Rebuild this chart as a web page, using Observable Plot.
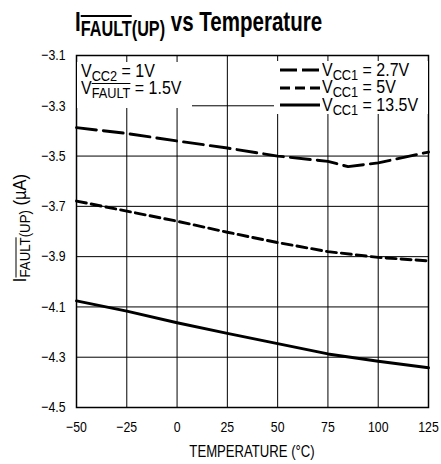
<!DOCTYPE html>
<html><head><meta charset="utf-8">
<script src="https://cdn.jsdelivr.net/npm/d3@7"></script>
<script src="https://cdn.jsdelivr.net/npm/@observablehq/plot@0.6"></script>
<style>
body{margin:0;background:#fff;font-family:"Liberation Sans",Arial,sans-serif;}
#wrap{position:relative;width:441px;height:464px;overflow:hidden;}
#title{height:44px;box-sizing:border-box;padding-left:75px;padding-top:7px;font-size:27px;font-weight:bold;color:#000;white-space:nowrap;line-height:30px;position:relative;z-index:2;}
#title .sq{transform:scaleX(0.76);}
#title .sub{font-size:0.79em;top:0.25em;}
.sq{display:inline-block;transform:scaleX(0.84);transform-origin:left center;}
.ov{text-decoration:overline;}
.sub{font-size:0.8em;position:relative;top:0.28em;}
.box{position:absolute;background:#fff;font-size:19px;line-height:17.5px;white-space:nowrap;z-index:1;}
.row{height:17.5px;display:flex;align-items:center;}
.sw{width:40px;height:17px;margin-right:2px;flex:none;}
#ylab{position:absolute;left:20px;top:228px;transform:translate(-50%,-50%) rotate(-90deg) scaleX(0.92);font-size:18px;white-space:nowrap;}
#xlab{position:absolute;left:252px;top:452px;transform:translate(-50%,-50%) scaleX(0.82);font-size:16px;white-space:nowrap;}
</style></head>
<body>
<div id="wrap">
<div id="title"><span class="sq">I<span class="sub"><span class="ov">FAULT</span>(UP)</span> vs Temperature</span></div>
<div id="chart"></div>
<div class="box" style="left:77px;top:62px;width:111px;height:46px;padding-left:4px;">
  <div class="row"><span class="sq">V<span class="sub">CC2</span>&nbsp;= 1V</span></div>
  <div class="row"><span class="sq">V<span class="sub ov">FAULT</span>&nbsp;= 1.5V</span></div>
</div>
<div class="box" style="left:274px;top:61px;width:148px;height:53px;padding-left:6px;" id="leg"></div>
<div id="ylab">I<span class="sub"><span class="ov">FAULT</span>(UP)</span> (µA)</div>
<div id="xlab">TEMPERATURE (°C)</div>
</div>
<script>
const temps27 = [-50, -25, 0, 25, 50, 75, 85, 100, 125];
const vcc27 = [-3.387, -3.410, -3.440, -3.468, -3.500, -3.521, -3.542, -3.527, -3.484];
const temps = [-50, -25, 0, 25, 50, 75, 100, 125];
const vcc5 = [-3.679, -3.719, -3.759, -3.803, -3.844, -3.880, -3.903, -3.917];
const vcc135 = [-4.076, -4.117, -4.163, -4.205, -4.246, -4.287, -4.316, -4.342];
const xTicks = [-50, -25, 0, 25, 50, 75, 100, 125];
const yTicks = [-3.1, -3.3, -3.5, -3.7, -3.9, -4.1, -4.3, -4.5];
const seriesNames = ["VCC1 = 2.7V", "VCC1 = 5V", "VCC1 = 13.5V"];
const seriesLabels = ["2.7V", "5V", "13.5V"];
const dashes = ["20,7", "10,5", null];
const legendDashes = ["17,5", "10,5", null];

const s27 = temps27.map((t,i)=>({t, v:vcc27[i]}));
const s5 = temps.map((t,i)=>({t, v:vcc5[i]}));
const s135 = temps.map((t,i)=>({t, v:vcc135[i]}));
const sets = [s27, s5, s135];

const chart = Plot.plot({
  width: 441, height: 420,
  marginTop: 11, marginBottom: 57, marginLeft: 76, marginRight: 13,
  style: {fontFamily: '"Liberation Sans",Arial,sans-serif', fontSize: "15px", color: "#000", background: "#fff"},
  x: {domain: [-50, 125]},
  y: {domain: [-4.5, -3.1]},
  marks: [
    Plot.ruleX(xTicks.slice(1, -1), {stroke: "#000", strokeWidth: 1}),
    Plot.ruleY(yTicks.slice(1, -1), {stroke: "#000", strokeWidth: 1}),
    ...sets.map((s, i) => Plot.line(s, {x: "t", y: "v", stroke: "#000", strokeWidth: 2.9, strokeDasharray: dashes[i]})),
    Plot.frame({stroke: "#000", strokeWidth: 1.5}),
    Plot.axisX({ticks: xTicks, tickSize: 0, tickPadding: 14, tickFormat: d => String(d).replace("-", "\u2212"), label: null}),
    Plot.axisY({ticks: yTicks, tickSize: 0, tickPadding: 11, tickFormat: d => d.toFixed(1).replace("-", "\u2212"), label: null})
  ]
});
document.getElementById("chart").appendChild(chart);
d3.select(chart).selectAll('g[aria-label$="tick label"] text').each(function(){
  const t = this.getAttribute("transform") || "";
  this.setAttribute("transform", t + " scale(0.82,1)");
});

const leg = document.getElementById("leg");
seriesNames.forEach((name, i) => {
  const row = document.createElement("div");
  row.className = "row";
  const ns = "http://www.w3.org/2000/svg";
  const sv = document.createElementNS(ns, "svg");
  sv.setAttribute("class", "sw"); sv.setAttribute("width", 40); sv.setAttribute("height", 17);
  const ln = document.createElementNS(ns, "line");
  ln.setAttribute("x1", 0); ln.setAttribute("x2", 40); ln.setAttribute("y1", 9); ln.setAttribute("y2", 9);
  ln.setAttribute("stroke", "#000"); ln.setAttribute("stroke-width", 2.9);
  if (legendDashes[i]) ln.setAttribute("stroke-dasharray", legendDashes[i]);
  sv.appendChild(ln);
  row.appendChild(sv);
  const tx = document.createElement("span");
  tx.className = "sq";
  tx.innerHTML = 'V<span class="sub">CC1</span>&nbsp;= ' + seriesLabels[i];
  row.appendChild(tx);
  leg.appendChild(row);
});
</script>
</body></html>
